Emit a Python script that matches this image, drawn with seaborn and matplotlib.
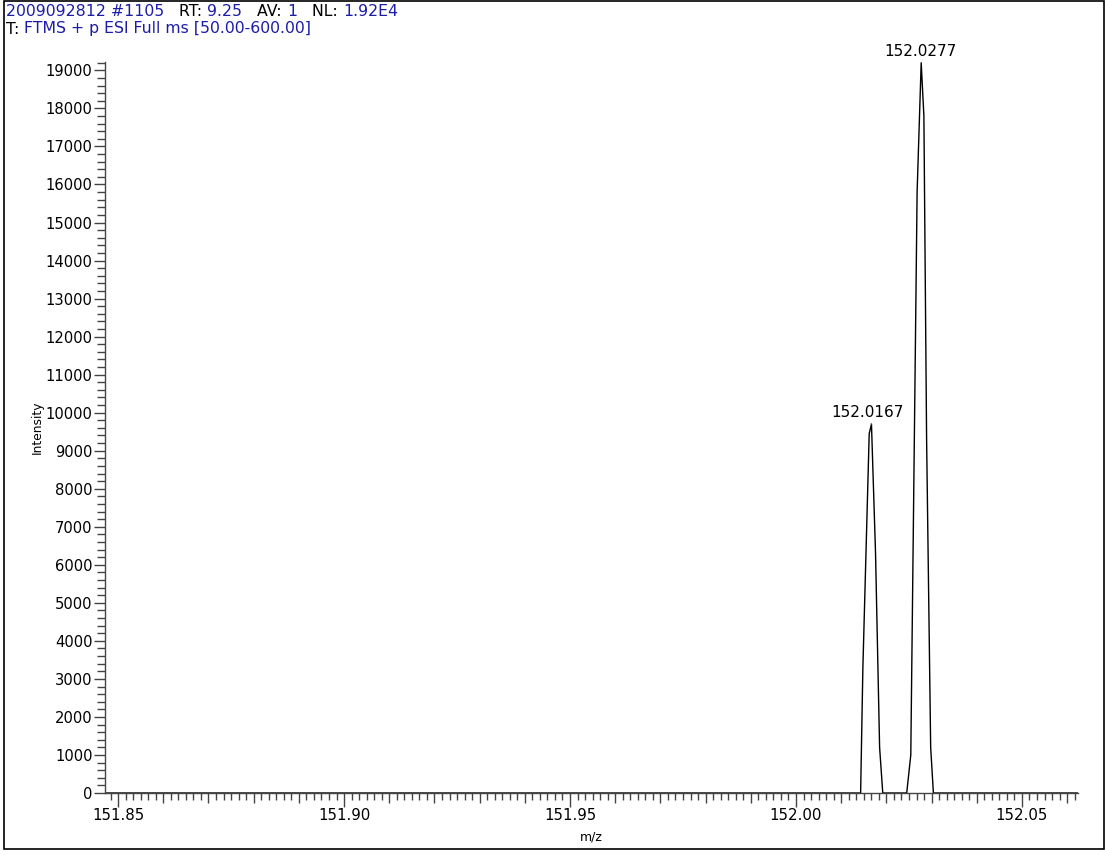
import numpy as np
import pandas as pd
import matplotlib
matplotlib.use("Agg")
import matplotlib.pyplot as plt
from matplotlib.patches import Rectangle
from matplotlib.ticker import FixedLocator, MultipleLocator, FuncFormatter
import seaborn as sns

# ---- data ----
mz = [151.8471, 152.0143, 152.0148, 152.0162, 152.0167, 152.0176, 152.0185, 152.0192,
      152.0245, 152.0254, 152.0268, 152.0277, 152.0283, 152.0289, 152.0298, 152.0304, 152.0624]
intensity = [0, 0, 3300, 9450, 9700, 6300, 1200, 0,
             0, 1000, 15800, 19200, 17800, 9300, 1200, 0, 0]
peak_mz = [152.0167, 152.0277]
peak_int = [9700, 19200]
peak_labels = ["152.0167", "152.0277"]
x_major = [151.85, 151.90, 151.95, 152.00, 152.05]
header_line1 = [("2009092812 #1105", "b"), ("   RT: ", "k"), ("9.25", "b"), ("   AV: ", "k"),
                ("1", "b"), ("   NL: ", "k"), ("1.92E4", "b")]
header_line2 = [("T: ", "k"), ("FTMS + p ESI Full ms [50.00-600.00]", "b")]

sns.set_style("white")
plt.rcParams['font.family'] = ['DejaVu Sans']
plt.rcParams['text.color'] = 'black'
plt.rcParams['axes.labelcolor'] = 'black'
plt.rcParams['xtick.color'] = 'black'
plt.rcParams['ytick.color'] = 'black'

W, H = 1105, 855
fig = plt.figure(figsize=(W / 100, H / 100), dpi=100)
ax = fig.add_axes([105 / W, 1 - 793 / H, (1078 - 105) / W, (793 - 62) / H])

df = pd.DataFrame({"m/z": mz, "Intensity": intensity})
sns.lineplot(data=df, x="m/z", y="Intensity", ax=ax, sort=False, estimator=None,
             color="black", linewidth=1.0)

ax.set_xlim(151.8471, 152.0624)
ax.set_ylim(0, 19220)

for s in ["top", "right"]:
    ax.spines[s].set_visible(False)
for s in ["left", "bottom"]:
    ax.spines[s].set_color("#444444")
    ax.spines[s].set_linewidth(1.0)

# y ticks
ax.yaxis.set_major_locator(MultipleLocator(1000))
ax.yaxis.set_minor_locator(MultipleLocator(200))
ax.tick_params(axis="y", which="major", direction="out", length=8, width=1,
               color="#444444", labelcolor="black", labelsize=10.6, pad=1, left=True)
ax.tick_params(axis="y", which="minor", direction="out", length=6, width=1,
               color="#444444", left=True)

# x ticks: major every 0.01 (labels only at 0.05), minor every 0.01/6
xt = np.round(np.arange(151.85, 152.0601, 0.01), 4)
ax.xaxis.set_major_locator(FixedLocator(xt))
xm = [v for v in np.round(151.85 + np.arange(-2, 130) * (0.01 / 6), 6)
      if 151.8471 <= v <= 152.0624 and min(abs(v - t) for t in xt) > 1e-4]
ax.xaxis.set_minor_locator(FixedLocator(xm))


def fmt(v, pos):
    for m in x_major:
        if abs(v - m) < 1e-6:
            return f"{m:.2f}"
    return ""


ax.xaxis.set_major_formatter(FuncFormatter(fmt))
ax.tick_params(axis="x", which="major", direction="out", length=7.5, width=1,
               color="#444444", labelcolor="black", labelsize=10.8, pad=3.5, bottom=True)
ax.tick_params(axis="x", which="minor", direction="out", length=5, width=1,
               color="#444444", bottom=True)
for t, v in zip(ax.xaxis.get_major_ticks(len(xt)), xt):
    if any(abs(v - m) < 1e-6 for m in x_major):
        t.tick1line.set_markersize(10)

ax.set_xlabel("m/z", fontsize=9, labelpad=5, color="black")
ax.set_ylabel("Intensity", fontsize=8.8, labelpad=1.5, color="black")

# peak labels
ax.annotate(peak_labels[0], xy=(peak_mz[0], peak_int[0]), xytext=(-2.8, 3),
            textcoords="offset points", ha="center", va="bottom", fontsize=11,
            color="black",
            arrowprops=dict(arrowstyle="-", color="#33aa33", lw=0.8, shrinkA=0, shrinkB=0))
ax.annotate(peak_labels[1], xy=(peak_mz[1], peak_int[1]), xytext=(-0.5, 2.5),
            textcoords="offset points", ha="center", va="bottom", fontsize=11,
            color="black")

# header
blue = "#1c1ca8"
r = fig.canvas.get_renderer()
for line, y in [(header_line1, 12), (header_line2, 29)]:
    xpos = 6
    for txt, c in line:
        t = fig.text(xpos / W, 1 - y / H, txt, color=(blue if c == "b" else "black"),
                     fontsize=11.3, va="center", ha="left")
        bb = t.get_window_extent(renderer=r)
        xpos += bb.width

# figure frame
fig.patches.append(Rectangle((4 / W, 1 - 849 / H), (1104 - 4) / W, 848 / H,
                             transform=fig.transFigure, fill=False,
                             edgecolor="black", linewidth=1.2))

fig.savefig("out.png", dpi=100)
